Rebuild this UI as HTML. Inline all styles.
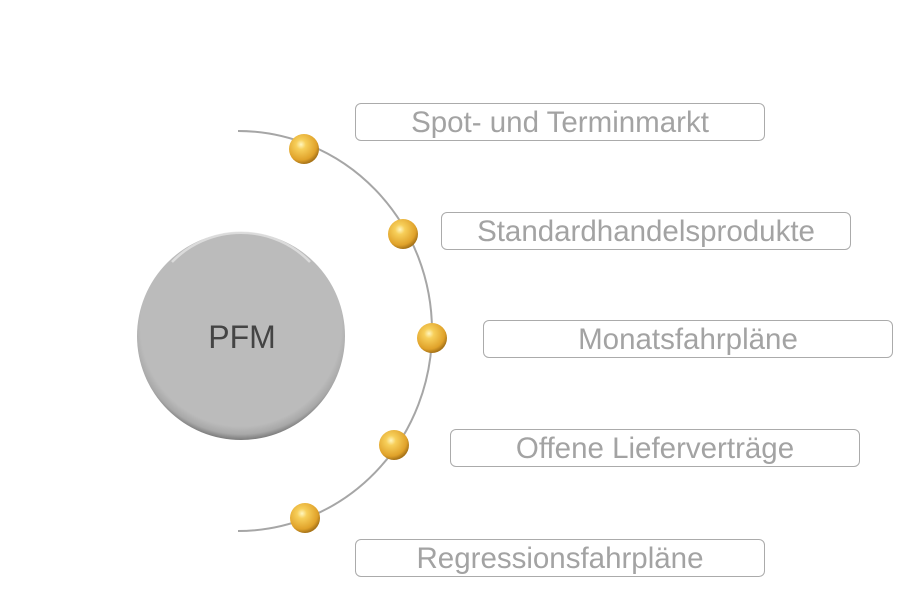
<!DOCTYPE html>
<html><head><meta charset="utf-8"><style>
body{margin:0;width:910px;height:593px;background:#fff;overflow:hidden;position:relative;font-family:"Liberation Sans",sans-serif}
.b{position:absolute;width:408px;height:36px;border:1px solid #ababab;border-radius:6px;color:#a3a3a3;font-size:29.5px;line-height:38px;text-align:center;box-sizing:content-box;white-space:nowrap}
</style></head><body>
<svg width="910" height="593" style="position:absolute;left:0;top:0">
<defs>
<radialGradient id="g" cx="0.4" cy="0.35" r="0.65">
<stop offset="0" stop-color="#fff6c0"/><stop offset="0.25" stop-color="#f7cf5a"/><stop offset="0.8" stop-color="#e0a22a"/><stop offset="1" stop-color="#a87418"/></radialGradient>
<radialGradient id="c" cx="0.5" cy="0.45" r="0.55">
<stop offset="0.88" stop-color="#bbbbbb"/><stop offset="0.95" stop-color="#a8a8a8"/><stop offset="1" stop-color="#7a7a7a"/></radialGradient>
</defs>
<path d="M238 131 A194 200 0 0 1 238 531" fill="none" stroke="#a6a6a6" stroke-width="2"/>
<circle cx="241" cy="336" r="104" fill="url(#c)"/>
<path d="M172 262 A96 96 0 0 1 310 262" fill="none" stroke="#e4e4e4" stroke-width="2.5" opacity="0.8"/>
<text x="242" y="348" font-size="32" fill="#444" text-anchor="middle" font-family="Liberation Sans">PFM</text>
<circle cx="304" cy="149" r="15" fill="url(#g)"/>
<circle cx="403" cy="234" r="15" fill="url(#g)"/>
<circle cx="432" cy="338" r="15" fill="url(#g)"/>
<circle cx="394" cy="445" r="15" fill="url(#g)"/>
<circle cx="305" cy="518" r="15" fill="url(#g)"/>
</svg>
<div class="b" style="left:355px;top:103px">Spot- und Terminmarkt</div>
<div class="b" style="left:441px;top:212px">Standardhandelsprodukte</div>
<div class="b" style="left:483px;top:320px">Monatsfahrpläne</div>
<div class="b" style="left:450px;top:429px">Offene Lieferverträge</div>
<div class="b" style="left:355px;top:539px">Regressionsfahrpläne</div>
</body></html>
